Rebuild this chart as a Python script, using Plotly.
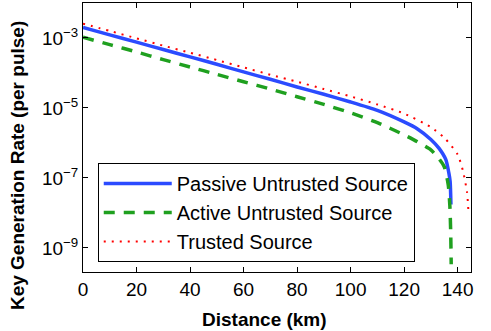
import numpy as np
import plotly.graph_objects as go

# Distance (km) and log10 of key generation rate
passive_x = [0, 10, 20, 30, 40, 50, 60, 70, 80, 90, 100, 110, 120, 125, 130, 133, 135.6, 136.7, 137.2, 137.5]
passive_log = [-2.70, -2.91, -3.12, -3.33, -3.54, -3.75, -3.97, -4.18, -4.40, -4.61, -4.83, -5.07, -5.40, -5.60,
               -5.90, -6.15, -6.48, -6.85, -7.10, -7.76]

active_x = [0, 10, 20, 30, 40, 50, 60, 70, 80, 90, 100, 110, 120, 125, 130, 133, 135, 136.5, 137.1, 137.4, 137.6]
active_log = [-2.98, -3.19, -3.40, -3.62, -3.83, -4.04, -4.25, -4.46, -4.68, -4.90, -5.14, -5.42, -5.77, -5.97,
              -6.20, -6.45, -6.68, -7.20, -7.80, -8.50, -9.47]

trusted_x = [0, 10, 20, 30, 40, 50, 60, 70, 80, 90, 100, 110, 120, 130, 135, 140, 142, 143.5, 144]
trusted_log = [-2.59, -2.80, -3.01, -3.22, -3.42, -3.63, -3.84, -4.05, -4.25, -4.46, -4.67, -4.90, -5.16, -5.55,
               -5.85, -6.33, -6.80, -7.40, -7.90]

names = ["Passive Untrusted Source", "Active Untrusted Source", "Trusted Source"]
y_tick_vals = [1e-9, 1e-7, 1e-5, 1e-3]
y_tick_text = ["10<sup>\u22129</sup>", "10<sup>\u22127</sup>", "10<sup>\u22125</sup>", "10<sup>\u22123</sup>"]
x_tick_vals = [0, 20, 40, 60, 80, 100, 120, 140]

FONT = "Liberation Sans, Arial, Helvetica, sans-serif"

fig = go.Figure()
fig.add_trace(go.Scatter(x=passive_x, y=np.power(10.0, passive_log), mode="lines", name=names[0],
                         line=dict(color="#2b4bff", width=3.5, shape="spline", smoothing=0.6)))
fig.add_trace(go.Scatter(x=active_x, y=np.power(10.0, active_log), mode="lines", name=names[1],
                         line=dict(color="#1fa01f", width=3.5, dash="11px,9px", shape="spline", smoothing=0.6)))
fig.add_trace(go.Scatter(x=trusted_x, y=np.power(10.0, trusted_log), mode="lines", name=names[2],
                         line=dict(color="#ff0000", width=2, dash="2px,6px", shape="spline", smoothing=0.6)))

axis_common = dict(showline=True, linecolor="black", linewidth=1, mirror="ticks", ticks="inside",
                   ticklen=5, tickcolor="black", showgrid=False, zeroline=False,
                   tickfont=dict(family=FONT, size=19, color="black"))

fig.update_xaxes(range=[0, 145], tickvals=x_tick_vals, **axis_common)
fig.update_yaxes(type="log", range=[-9.69, -2], tickvals=y_tick_vals, ticktext=y_tick_text, **axis_common)

fig.update_layout(
    width=491, height=331,
    margin=dict(l=83, r=20, t=3, b=59),
    plot_bgcolor="white", paper_bgcolor="white",
    font=dict(family=FONT, size=19, color="black"),
    legend=dict(x=0.038, y=0.405, xanchor="left", yanchor="top",
                bgcolor="white", bordercolor="black", borderwidth=1,
                font=dict(family=FONT, size=20, color="black"), itemwidth=68),
    annotations=[
        dict(text="<b>Distance (km)</b>", xref="paper", yref="paper", x=(264 - 83) / 388, y=-0.178,
             xanchor="center", yanchor="middle", showarrow=False, font=dict(family=FONT, size=19)),
        dict(text="<b>Key Generation Rate (per pulse)</b>", xref="paper", yref="paper", x=-0.170, y=0.394,
             xanchor="center", yanchor="middle", textangle=-90, showarrow=False, font=dict(family=FONT, size=19)),
    ],
)

fig.write_html("out.html", config={"displayModeBar": False},
               post_script="document.body.style.margin='0';")
